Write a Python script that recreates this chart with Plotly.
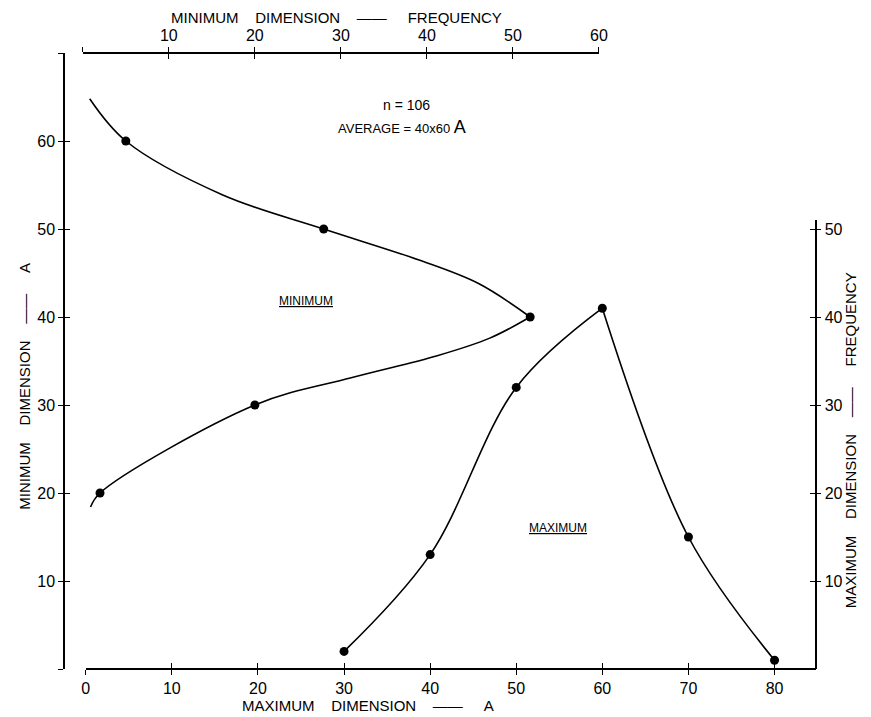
import plotly.graph_objects as go

W, H = 871, 717

# ---- data ----
# Minimum dimension: x = frequency (top axis), y = dimension in A (left axis)
min_freq = [2, 20, 52, 28, 5]
min_dim = [20, 30, 40, 50, 60]
# curve path, split at the turning point
min_low_freq = [0.9, 2, 20, 31.2, 41.2, 47.3, 52]
min_low_dim = [18.4, 20, 30, 33.1, 35.6, 37.6, 40]
min_up_freq = [52, 46, 39, 28, 16.2, 5, 0.8]
min_up_dim = [40, 43.8, 46.5, 50, 53.9, 60, 64.8]

# Maximum dimension: x = dimension in A (bottom axis), y = frequency (right axis)
max_dim = [30, 40, 50, 60, 70, 80]
max_freq = [2, 13, 32, 41, 15, 1]
max_rise_dim = [30, 40, 50, 60]
max_rise_freq = [2, 13, 32, 41]
max_fall_dim = [60, 70, 80]
max_fall_freq = [41, 15, 1]

bottom_ticks = [0, 10, 20, 30, 40, 50, 60, 70, 80]
top_ticks = [0, 10, 20, 30, 40, 50, 60]
left_ticks = [0, 10, 20, 30, 40, 50, 60, 70]
right_ticks = [10, 20, 30, 40, 50]

FONT = "Liberation Sans Narrow, Liberation Sans, Arial, sans-serif"


def px(x):
    return x / W


def py(y):
    return 1 - y / H


fig = go.Figure()

line = dict(color="black", width=1.6, shape="spline", smoothing=1.0)
mk = dict(color="black", size=9)

fig.add_trace(go.Scatter(x=min_low_freq, y=min_low_dim, mode="lines", line=line,
                         xaxis="x2", yaxis="y", hoverinfo="skip"))
fig.add_trace(go.Scatter(x=min_up_freq, y=min_up_dim, mode="lines", line=line,
                         xaxis="x2", yaxis="y", hoverinfo="skip"))
fig.add_trace(go.Scatter(x=min_freq, y=min_dim, mode="markers", marker=mk,
                         xaxis="x2", yaxis="y"))
fig.add_trace(go.Scatter(x=max_rise_dim, y=max_rise_freq, mode="lines", line=line,
                         xaxis="x", yaxis="y2", hoverinfo="skip"))
fig.add_trace(go.Scatter(x=max_fall_dim, y=max_fall_freq, mode="lines", line=line,
                         xaxis="x", yaxis="y2", hoverinfo="skip"))
fig.add_trace(go.Scatter(x=max_dim, y=max_freq, mode="markers", marker=mk,
                         xaxis="x", yaxis="y2"))

# dummy traces to register overlay axes used for crossing ticks
for xa, ya in [("x3", "y"), ("x4", "y"), ("x", "y3"), ("x", "y4")]:
    fig.add_trace(go.Scatter(x=[None], y=[None], xaxis=xa, yaxis=ya,
                             hoverinfo="skip", showlegend=False))

x_dom = [px(83), px(824)]
x_rng = [0, (824 - 83) / 8.74]
x2_dom = [px(80), px(604)]
x2_rng = [0, 60]
y_dom = [py(669), py(53)]
y_rng = [0, 70]
y2_dom = [py(669), py(220)]
y2_rng = [0, (669 - 220) / 8.8]

common = dict(showgrid=False, zeroline=False, showline=True, linecolor="black",
              linewidth=1.5, tickcolor="black", tickwidth=1.3, ticklen=5,
              tickfont=dict(family=FONT, size=16, color="black"), fixedrange=True)
nofont = {k: v for k, v in common.items() if k != "tickfont"}

fig.update_layout(
    width=W, height=H, margin=dict(l=0, r=0, t=0, b=0),
    paper_bgcolor="white", plot_bgcolor="rgba(0,0,0,0)", showlegend=False,
    xaxis=dict(domain=x_dom, range=x_rng, anchor="free", position=py(669), side="bottom",
               tickmode="array", tickvals=bottom_ticks, ticks="outside", **common),
    xaxis2=dict(domain=x2_dom, range=x2_rng, anchor="free", position=py(53), side="top",
                tickmode="array", tickvals=top_ticks,
                ticktext=[""] + [str(t) for t in top_ticks[1:]], ticks="outside", **common),
    yaxis=dict(domain=y_dom, range=y_rng, anchor="free", position=px(61), side="left",
               tickmode="array", tickvals=left_ticks,
               ticktext=[""] + [str(t) for t in left_ticks[1:-1]] + [""], ticks="outside", **common),
    yaxis2=dict(domain=y2_dom, range=y2_rng, anchor="free", position=px(824), side="right",
                tickmode="array", tickvals=right_ticks, ticks="outside", **common),
    xaxis3=dict(overlaying="x", range=x_rng, anchor="free", position=py(669), side="bottom",
                tickmode="array", tickvals=bottom_ticks, ticks="inside", showticklabels=False,
                **nofont),
    xaxis4=dict(overlaying="x2", range=x2_rng, anchor="free", position=py(53), side="top",
                tickmode="array", tickvals=top_ticks, ticks="inside", showticklabels=False,
                **nofont),
    yaxis3=dict(overlaying="y", range=y_rng, anchor="free", position=px(61), side="left",
                tickmode="array", tickvals=left_ticks, ticks="inside", showticklabels=False,
                **nofont),
    yaxis4=dict(overlaying="y2", range=y2_rng, anchor="free", position=px(824), side="right",
                tickmode="array", tickvals=right_ticks, ticks="inside", showticklabels=False,
                **nofont),
)

sp = "&nbsp;"
title_font = dict(family=FONT, size=15, color="black")
ann = [
    dict(x=px(338), y=py(17), text=f"MINIMUM{sp*4}DIMENSION{sp*4}——{sp*5}FREQUENCY",
         font=title_font),
    dict(x=px(370), y=py(705), text=f"MAXIMUM{sp*4}DIMENSION{sp*4}——{sp*5}A",
         font=title_font),
    dict(x=px(20), y=py(386), text=f"MINIMUM{sp*4}DIMENSION{sp*4}——{sp*5}A",
         font=title_font, textangle=-90),
    dict(x=px(859), y=py(440), text=f"MAXIMUM{sp*4}DIMENSION{sp*4}——{sp*5}FREQUENCY",
         font=title_font, textangle=-90),
    dict(x=px(409), y=py(105), text="n = 106", font=dict(family=FONT, size=14, color="black")),
    dict(x=px(404), y=py(127), text="AVERAGE = 40x60 <span style='font-size:18px'>A</span>",
         font=dict(family=FONT, size=13, color="black")),
    dict(x=px(307), y=py(301), text="<u>MINIMUM</u>", font=dict(family=FONT, size=12, color="black")),
    dict(x=px(562), y=py(528), text="<u>MAXIMUM</u>", font=dict(family=FONT, size=12, color="black")),
]
for a in ann:
    a.update(xref="paper", yref="paper", showarrow=False, xanchor="center", yanchor="middle")
fig.update_layout(annotations=ann)

fig.write_html("out.html", config={"displayModeBar": False},
               post_script="document.body.style.margin='0px';"
                           "document.body.style.overflow='hidden';")
